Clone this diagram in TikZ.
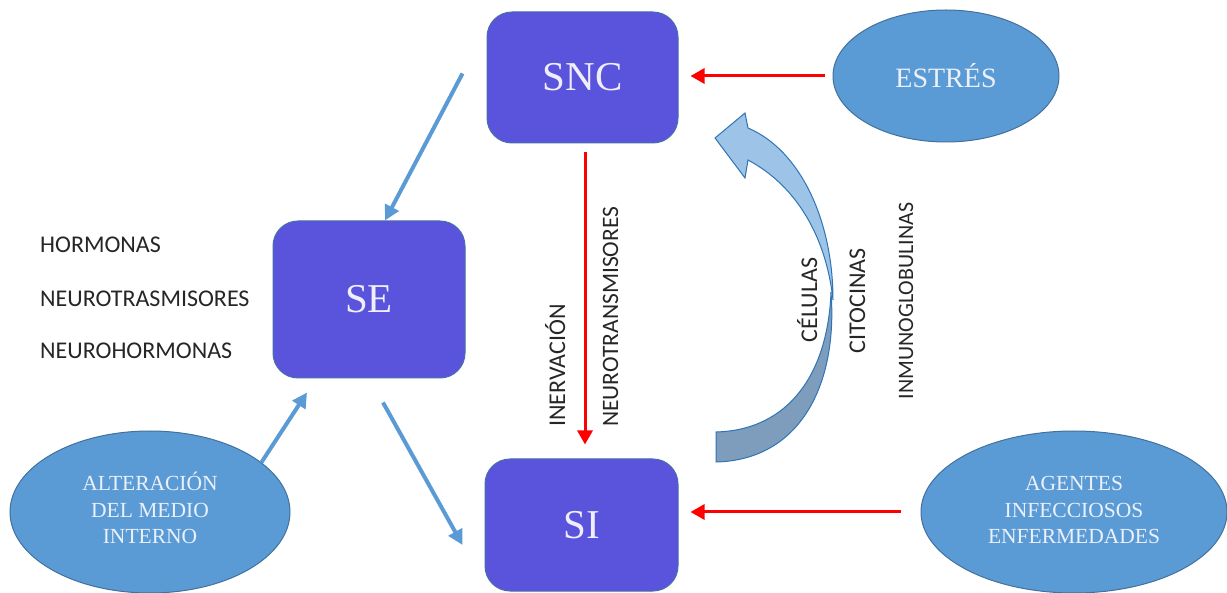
\documentclass[tikz,border=0pt]{standalone}
\usepackage{fontspec}
\setmainfont{Liberation Serif}
\newfontfamily\lblfont{Carlito}
\usetikzlibrary{arrows.meta,shapes.geometric,calc}
\definecolor{boxfill}{RGB}{89,84,219}
\definecolor{boxline}{RGB}{74,110,170}
\definecolor{ellfill}{RGB}{91,155,213}
\definecolor{ellline}{RGB}{65,113,156}
\definecolor{ellText}{RGB}{235,240,250}
\definecolor{boxText}{RGB}{240,238,252}
\definecolor{blueArrow}{RGB}{91,155,213}
\definecolor{curvLight}{RGB}{157,195,230}
\definecolor{curvDark}{RGB}{126,156,188}
\definecolor{curvLine}{RGB}{46,117,182}
\newcommand{\ellstack}[1]{\raisebox{7pt}{\begin{tabular}{@{}c@{}}#1\end{tabular}}}
\tikzset{
  sysbox/.style={draw=boxline, line width=1pt, fill=boxfill, rounded corners=25pt,
    text=boxText, font=\fontsize{41}{48}\selectfont, inner sep=0pt},
  ellnode/.style={ellipse, draw=ellline, line width=1pt, fill=ellfill, inner sep=0pt,
    text=ellText, align=center, font=\fontsize{21.5}{26.5}\selectfont},
  redarrow/.style={draw=red, line width=3pt, -{Triangle[length=14pt,width=15pt]}},
  bluearrow/.style={draw=blueArrow, line width=4pt, -{Triangle[length=15pt,width=15pt]}},
  lbl/.style={font=\lblfont\fontsize{24}{28}\selectfont, inner sep=0pt, text=black!85},
}
\begin{document}
\begin{tikzpicture}[x=1pt,y=-1pt]
\useasboundingbox (0,0) rectangle (1227,593);
\fill[white] (0,0) rectangle (1227,593);

% boxes
\node[sysbox, minimum width=191pt, minimum height=131pt] (SNC) at (582.5,77.5) {SNC};
\node[sysbox, minimum width=192pt, minimum height=157pt] (SE) at (369,299.5) {SE};
\node[sysbox, minimum width=193pt, minimum height=132pt] (SI) at (581.5,525) {SI};

% ellipses
\node[ellnode, minimum width=226pt, minimum height=132pt, font=\fontsize{28}{32}\selectfont] (EST) at (946,76) {ESTRÉS};
\node[ellnode, minimum width=280pt, minimum height=162pt] (ALT) at (150,512) {\ellstack{ALTERACIÓN\\DEL MEDIO\\INTERNO}};
\node[ellnode, minimum width=306pt, minimum height=162pt] (AGE) at (1074,512) {\ellstack{AGENTES\\INFECCIOSOS\\ENFERMEDADES}};

% red arrows
\draw[redarrow] ([xshift=-8pt]EST.west) -- ([xshift=12pt]SNC.east |- EST.west);
\draw[redarrow] ([xshift=-20pt]AGE.west) -- ([xshift=12pt]SI.east |- AGE.west);
\draw[redarrow] ([shift={(2.5pt,-9pt)}]SNC.south) -- ([shift={(3.5pt,14pt)}]SI.north);

% blue arrows
\draw[bluearrow] ([shift={(-24pt,4pt)}]SNC.west) -- ([xshift=16pt]SE.north);
\draw[bluearrow] (ALT.24) -- ([shift={(-62pt,-14pt)}]SE.south);
\draw[bluearrow] ([shift={(14pt,-24pt)}]SE.south) -- ([shift={(-22pt,-20pt)}]SI.west);

% curved block arrow
\path[fill=curvDark, draw=curvLine, line width=1pt]
  (716,462) -- (716,432) .. controls (790,430) and (828,372) .. (831,292)
  .. controls (838,385) and (800,460) .. cycle;
\path[fill=curvLight, draw=curvLine, line width=1pt]
  (715,138) -- (745,113) -- (748,128) .. controls (800,150) and (833,220) .. (833,300)
  .. controls (826,235) and (795,185) .. (748,160) -- (745,178) -- cycle;

% labels
\node[lbl, anchor=base west] (hor) at (40,253) {HORMONAS};
\node[lbl, anchor=base west] (ntr) at (40,307) {NEUROTRASMISORES};
\node[lbl, anchor=base west] (nho) at (40,359) {NEUROHORMONAS};
\node[lbl, rotate=90, anchor=base west] (inv) at (565,427) {INERVACIÓN};
\node[lbl, rotate=90, anchor=base west, font=\lblfont\fontsize{23.5}{28}\selectfont] (ntm) at (618,427) {NEUROTRANSMISORES};
\node[lbl, rotate=90, anchor=base] (cel) at (817,300) {CÉLULAS};
\node[lbl, rotate=90, anchor=base] (cit) at (865,301) {CITOCINAS};
\node[lbl, rotate=90, anchor=base, font=\lblfont\fontsize{22}{28}\selectfont] (inm) at (913,301) {INMUNOGLOBULINAS};
\end{tikzpicture}
\end{document}
